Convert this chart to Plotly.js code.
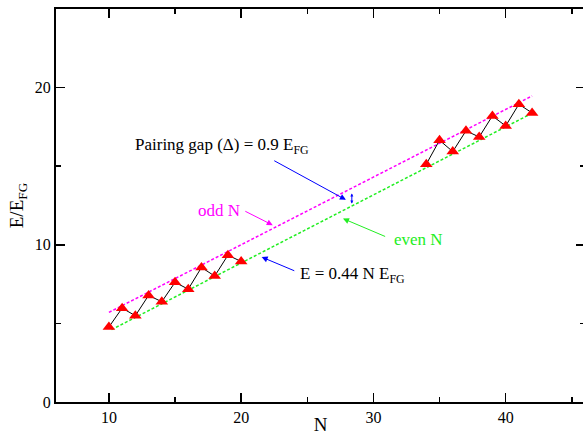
<!DOCTYPE html>
<html>
<head>
<meta charset="utf-8">
<script src="https://cdn.plot.ly/plotly-3.0.1.min.js"></script>
<style>
html,body{margin:0;padding:0;overflow:hidden;background:#fff;}
#chart{width:586px;height:435px;}
</style>
</head>
<body>
<div id="chart"></div>
<script>
// Data
var N_low = [10, 11, 12, 13, 14, 15, 16, 17, 18, 19, 20];
var E_low = [4.77, 5.97, 5.49, 6.78, 6.38, 7.61, 7.18, 8.56, 8.01, 9.34, 8.94];
var N_high = [34, 35, 36, 37, 38, 39, 40, 41, 42];
var E_high = [15.13, 16.65, 15.93, 17.25, 16.86, 18.20, 17.56, 18.94, 18.39];
// Fit lines (endpoints)
var evenLineN = [10.2, 42];
var evenLineE = [4.6, 18.37];
var oddLineN = [10, 42];
var oddLineE = [5.70, 19.47];
var xTicks = [10, 20, 30, 40];
var yTicks = [0, 10, 20];

var FONT = "'Liberation Serif', 'Times New Roman', serif";

var traces = [
  {x: evenLineN, y: evenLineE, mode: 'lines', line: {color: '#22ee22', width: 1.5, dash: '3px,2px'}, hoverinfo: 'skip'},
  {x: oddLineN, y: oddLineE, mode: 'lines', line: {color: '#ff00ff', width: 1.5, dash: '3px,2px'}, hoverinfo: 'skip'},
  {x: N_low, y: E_low, mode: 'lines+markers', line: {color: '#000', width: 1},
   marker: {symbol: 'triangle-up', size: 11, color: '#ff0000', line: {color: '#ff0000', width: 0}}},
  {x: N_high, y: E_high, mode: 'lines+markers', line: {color: '#000', width: 1},
   marker: {symbol: 'triangle-up', size: 11, color: '#ff0000', line: {color: '#ff0000', width: 0}}}
];

function arrow(x, y, ax, ay, color, both, size) {
  return {x: x, y: y, ax: ax, ay: ay, xref: 'x', yref: 'y', axref: 'x', ayref: 'y',
    text: '', showarrow: true, arrowhead: 2, arrowsize: size || 1.2, arrowwidth: 1, arrowcolor: color,
    arrowside: both ? 'end+start' : 'end', standoff: 0, startstandoff: 0};
}

var annotations = [
  {x: 11.8, y: 16.3, xref: 'x', yref: 'y', xanchor: 'left', yanchor: 'middle', showarrow: false,
   text: 'Pairing gap (\u0394) = 0.9 E<sub>FG</sub>', font: {family: FONT, size: 17, color: '#000'}},
  {x: 18.3, y: 12.18, xref: 'x', yref: 'y', xanchor: 'center', yanchor: 'middle', showarrow: false,
   text: 'odd N', font: {family: FONT, size: 17, color: '#ff00ff'}},
  {x: 33.4, y: 10.36, xref: 'x', yref: 'y', xanchor: 'center', yanchor: 'middle', showarrow: false,
   text: 'even N', font: {family: FONT, size: 17, color: '#22ee22'}},
  {x: 24.3, y: 8.05, xref: 'x', yref: 'y', xanchor: 'left', yanchor: 'middle', showarrow: false,
   text: 'E = 0.44 N E<sub>FG</sub>', font: {family: FONT, size: 17, color: '#000'}},
  arrow(27.92, 12.86, 22.39, 15.40, '#0000ff', false),
  arrow(28.37, 12.62, 28.37, 13.36, '#0000ff', true, 0.6),
  arrow(22.39, 11.25, 20.2, 12.18, '#ff00ff', false),
  arrow(27.7, 11.67, 31.0, 10.49, '#22ee22', false),
  arrow(21.55, 9.22, 24.13, 8.31, '#0000ff', false)
];

var layout = {
  width: 586, height: 435,
  margin: {l: 56, r: 1, t: 9, b: 33},
  paper_bgcolor: '#fff', plot_bgcolor: '#fff',
  showlegend: false,
  font: {family: FONT, size: 16, color: '#000'},
  xaxis: {
    range: [6, 46], tickvals: xTicks, ticktext: xTicks.map(String),
    ticks: 'inside', ticklen: 9, tickwidth: 1.5, tickcolor: '#000',
    minor: {dtick: 5, tick0: 0, ticks: 'inside', ticklen: 5, tickwidth: 1.5, tickcolor: '#000'},
    showline: true, linewidth: 2, linecolor: '#000', mirror: 'ticks',
    showgrid: false, zeroline: false, automargin: false,
    tickfont: {family: FONT, size: 16},
    title: {text: 'N', font: {family: FONT, size: 19}, standoff: 9}
  },
  yaxis: {
    range: [0, 25], tickvals: yTicks, ticktext: yTicks.map(String),
    ticks: 'inside', ticklen: 9, tickwidth: 1.5, tickcolor: '#000',
    minor: {dtick: 5, tick0: 0, ticks: 'inside', ticklen: 5, tickwidth: 1.5, tickcolor: '#000'},
    showline: true, linewidth: 2, linecolor: '#000', mirror: 'ticks',
    showgrid: false, zeroline: false, automargin: false,
    tickfont: {family: FONT, size: 16},
    title: {text: 'E/E<sub>FG</sub>', font: {family: FONT, size: 19}, standoff: 6}
  },
  annotations: annotations
};

Plotly.newPlot('chart', traces, layout, {staticPlot: true, displayModeBar: false});
</script>
</body>
</html>
